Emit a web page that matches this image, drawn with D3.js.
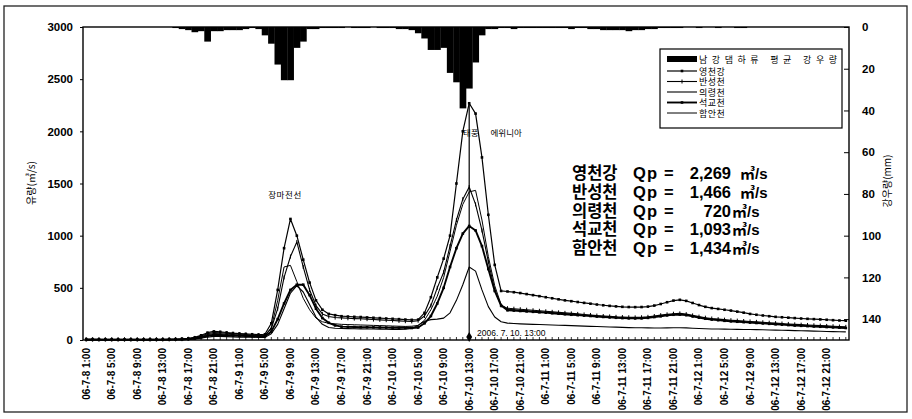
<!DOCTYPE html>
<html>
<head>
<meta charset="utf-8">
<script src="https://cdn.jsdelivr.net/npm/d3@7"></script>
<style>
  body { margin: 0; background: #fff; }
  text { font-family: "Liberation Sans", Arial, sans-serif; fill: #000; }
  .kr { font-family: "Noto Sans CJK KR", sans-serif; }
  .lg { font-family: "Liberation Sans", "Noto Sans CJK KR", sans-serif; }
</style>
</head>
<body>
<div id="chart"></div>
<script>
// hourly categories, 06-7-8 1:00 .. 06-7-13 0:00
const fmtHour = d3.timeFormat('%y-%-m-%-d %-H:%M');
const categories = d3.timeHour.range(new Date(2006, 6, 8, 1), new Date(2006, 6, 13, 1)).map(fmtHour);

// labelled categories on the x axis (every 4 hours)
const tickLabels = [
  '06-7-8 1:00', '06-7-8 5:00', '06-7-8 9:00', '06-7-8 13:00', '06-7-8 17:00', '06-7-8 21:00',
  '06-7-9 1:00', '06-7-9 5:00', '06-7-9 9:00', '06-7-9 13:00', '06-7-9 17:00', '06-7-9 21:00',
  '06-7-10 1:00', '06-7-10 5:00', '06-7-10 9:00', '06-7-10 13:00', '06-7-10 17:00', '06-7-10 21:00',
  '06-7-11 1:00', '06-7-11 5:00', '06-7-11 9:00', '06-7-11 13:00', '06-7-11 17:00', '06-7-11 21:00',
  '06-7-12 1:00', '06-7-12 5:00', '06-7-12 9:00', '06-7-12 13:00', '06-7-12 17:00', '06-7-12 21:00'
];
const flowTicks = [0, 500, 1000, 1500, 2000, 2500, 3000];
const rainTicks = [0, 20, 40, 60, 80, 100, 120, 140];

// 남강댐하류 평균 강우량 (mm)
const rain = [
  0, 0, 0, 0, 0, 0, 0, 0, 0, 0, 0, 0,
  0, 0, 0.5, 1, 1.5, 2.5, 2, 7, 2, 2, 1.5, 1.5,
  1.5, 1, 0.5, 1, 4, 8, 18, 25.5, 25.5, 10, 7, 1,
  1, 0.5, 0.5, 0.5, 0.5, 0, 0.5, 0.5, 0.5, 0, 0.5, 0.5,
  0.5, 1, 1, 1.5, 3, 5.5, 11, 11, 10, 22, 26.5, 39,
  29.5, 17, 4, 1, 1, 0.5, 0.5, 1, 0.5, 0.5, 0.5, 0.5,
  0.5, 0.5, 0.5, 0.5, 1, 0.5, 0.5, 1, 1, 1.5, 1.5, 1.5,
  1.5, 2, 1.5, 1.5, 1, 1, 0.5, 0.5, 0.5, 0.5, 0, 0,
  0.5, 0, 0, 0.5, 0, 0, 0.5, 0.5, 0, 0, 0, 0,
  0, 0, 0, 0, 0, 0, 0, 0, 0, 0, 0, 0
];

// discharge (m3/s)
const yeongcheon = [
  8, 8, 7, 7, 7, 6, 6, 6, 6, 6, 6, 7,
  7, 8, 9, 12, 16, 25, 45, 70, 82, 78, 72, 66,
  62, 58, 55, 52, 55, 160, 480, 880, 1160, 1000, 770, 550,
  380, 290, 250, 238, 228, 225, 222, 220, 216, 213, 210, 206,
  203, 200, 196, 193, 195, 260, 410, 600, 780, 1000, 1500, 2000,
  2269, 2170, 1750, 1200, 720, 470, 465, 458, 450, 440, 430, 420,
  410, 400, 390, 380, 372, 364, 356, 348, 340, 333, 327, 322,
  318, 316, 315, 316, 320, 330, 345, 362, 378, 385, 375, 355,
  335, 318, 306, 298, 290, 282, 272, 262, 250, 242, 235, 228,
  222, 218, 214, 210, 206, 203, 200, 197, 194, 190, 187, 185
];
const bansung = [
  3, 3, 3, 3, 3, 3, 3, 3, 3, 3, 4, 4,
  4, 5, 6, 8, 12, 20, 38, 60, 72, 70, 65, 60,
  55, 52, 48, 45, 45, 110, 300, 600, 800, 940, 700, 480,
  330, 250, 225, 215, 212, 208, 205, 203, 200, 196, 193, 190,
  187, 183, 180, 178, 185, 230, 330, 500, 650, 900, 1150, 1350,
  1466, 1300, 1050, 750, 480, 330, 305, 300, 295, 290, 285, 280,
  275, 270, 265, 260, 255, 250, 245, 240, 234, 230, 226, 222,
  220, 218, 217, 218, 222, 230, 238, 246, 252, 255, 248, 236,
  224, 214, 206, 200, 195, 190, 186, 182, 178, 174, 170, 166,
  162, 158, 154, 150, 147, 144, 141, 138, 135, 132, 129, 126
];
const uiryeong = [
  1, 1, 1, 1, 1, 1, 1, 1, 1, 1, 1, 1,
  2, 2, 3, 4, 6, 10, 18, 28, 35, 34, 32, 30,
  28, 27, 26, 25, 25, 60, 150, 300, 450, 520, 460, 340,
  220, 150, 120, 112, 110, 109, 108, 107, 106, 105, 104, 103,
  102, 102, 104, 110, 140, 180, 195, 200, 210, 260, 380, 530,
  700, 660, 480, 320, 220, 175, 162, 158, 155, 152, 150, 148,
  146, 144, 142, 140, 138, 135, 133, 131, 129, 127, 125, 123,
  121, 119, 118, 117, 116, 115, 115, 116, 117, 118, 116, 113,
  110, 108, 106, 105, 104, 103, 102, 101, 100, 99, 98, 96,
  95, 93, 92, 90, 89, 87, 85, 84, 82, 80, 79, 78
];
const seokgyo = [
  2, 2, 2, 2, 2, 2, 2, 2, 2, 2, 2, 2,
  3, 3, 4, 5, 8, 14, 25, 40, 50, 48, 45, 42,
  40, 38, 36, 35, 35, 80, 200, 350, 480, 530, 530, 430,
  300, 210, 165, 140, 128, 126, 124, 123, 122, 121, 120, 119,
  118, 117, 116, 115, 120, 160, 230, 350, 500, 700, 880, 1020,
  1093, 1050, 900, 680, 470, 330, 285, 282, 278, 274, 270, 266,
  262, 257, 252, 247, 242, 238, 234, 230, 225, 221, 217, 213,
  210, 208, 207, 208, 212, 220, 228, 236, 242, 244, 238, 226,
  214, 204, 196, 190, 184, 179, 175, 171, 167, 163, 159, 155,
  151, 147, 143, 139, 136, 133, 130, 127, 124, 121, 118, 115
];
const haman = [
  2, 2, 2, 2, 2, 2, 2, 2, 2, 2, 3, 3,
  3, 4, 5, 7, 10, 18, 32, 50, 62, 60, 56, 52,
  48, 45, 42, 40, 40, 120, 380, 700, 715, 560, 400, 290,
  210, 175, 160, 155, 150, 148, 146, 144, 142, 140, 138, 136,
  134, 132, 130, 132, 140, 190, 290, 420, 600, 850, 1100, 1300,
  1420, 1434, 1150, 800, 520, 340, 295, 290, 285, 280, 275, 270,
  265, 260, 255, 250, 246, 242, 238, 234, 228, 224, 220, 216,
  213, 211, 210, 211, 215, 222, 230, 238, 244, 246, 240, 228,
  216, 206, 198, 192, 187, 182, 178, 174, 170, 166, 162, 158,
  154, 150, 146, 142, 139, 136, 133, 130, 127, 124, 121, 118
];

const seriesNames = ['영천강', '반성천', '의령천', '석교천', '함안천'];
const peakValues = ['2,269', '1,466', '720', '1,093', '1,434'];
const rainName = '남강댐하류 평균 강우량';

const series = [
  { name: seriesNames[0], values: yeongcheon, width: 1.2, marker: 'square' },
  { name: seriesNames[1], values: bansung, width: 1.1, marker: 'tick' },
  { name: seriesNames[2], values: uiryeong, width: 1.1, marker: null },
  { name: seriesNames[3], values: seokgyo, width: 1.9, marker: 'square' },
  { name: seriesNames[4], values: haman, width: 1, marker: null }
];

drawChart();

function drawChart() {
  const W = 912, H = 419;
  const plot = { left: 83, right: 849, top: 27, bottom: 340 };

  const svg = d3.select('#chart').append('svg').attr('width', W).attr('height', H);

  // scanned-page style outer frame
  svg.append('rect')
    .attr('x', 4).attr('y', 6).attr('width', 903).attr('height', 406)
    .attr('fill', 'none').attr('stroke', '#222').attr('stroke-width', 1.3);

  // scales
  const x = d3.scaleBand().domain(categories).range([plot.left, plot.right]).padding(0);
  const cx = (c) => x(c) + x.bandwidth() / 2;
  const y = d3.scaleLinear().domain([0, 3000]).range([plot.bottom, plot.top]);
  const yRain = d3.scaleLinear().domain([0, 150]).range([plot.top, plot.bottom]);

  // rainfall bars hanging from the top
  svg.append('g').selectAll('rect')
    .data(rain.map((r, i) => ({ c: categories[i], r })))
    .join('rect')
    .attr('x', (d) => x(d.c))
    .attr('width', x.bandwidth() + 0.3)
    .attr('y', yRain(0))
    .attr('height', (d) => yRain(d.r) - yRain(0))
    .attr('fill', '#000');

  // discharge lines
  series.forEach((s) => {
    const pts = s.values.map((v, i) => ({ c: categories[i], v }));
    const line = d3.line().x((d) => cx(d.c)).y((d) => y(d.v));
    svg.append('path').datum(pts)
      .attr('fill', 'none').attr('stroke', '#000')
      .attr('stroke-width', s.width).attr('stroke-linejoin', 'round')
      .attr('d', line);
    if (s.marker === 'square') {
      svg.append('g').selectAll('rect').data(pts).join('rect')
        .attr('x', (d) => cx(d.c) - 1.3).attr('y', (d) => y(d.v) - 1.3)
        .attr('width', 2.6).attr('height', 2.6).attr('fill', '#000');
    } else if (s.marker === 'tick') {
      svg.append('g').selectAll('line').data(pts).join('line')
        .attr('x1', (d) => cx(d.c)).attr('x2', (d) => cx(d.c))
        .attr('y1', (d) => y(d.v) - 2).attr('y2', (d) => y(d.v) + 2)
        .attr('stroke', '#000').attr('stroke-width', 1);
    }
  });

  // peak time marker (2006. 7. 10. 13:00)
  const peakCat = categories[yeongcheon.indexOf(d3.max(yeongcheon))];
  svg.append('line')
    .attr('x1', cx(peakCat)).attr('x2', cx(peakCat))
    .attr('y1', y(d3.max(yeongcheon))).attr('y2', y(0))
    .attr('stroke', '#000').attr('stroke-width', 1.2);
  svg.append('path')
    .attr('d', d3.symbol(d3.symbolDiamond, 30)())
    .attr('transform', `translate(${cx(peakCat)},${y(0) - 3})`)
    .attr('fill', '#000');

  // plot frame
  svg.append('rect')
    .attr('x', plot.left).attr('y', plot.top)
    .attr('width', plot.right - plot.left).attr('height', plot.bottom - plot.top)
    .attr('fill', 'none').attr('stroke', '#000').attr('stroke-width', 1.4);

  // left axis
  const gLeft = svg.append('g').attr('transform', `translate(${plot.left},0)`)
    .call(d3.axisLeft(y).tickValues(flowTicks).tickFormat(d3.format('d')).tickSize(3).tickPadding(7));
  gLeft.select('.domain').remove();
  gLeft.selectAll('text').style('font-size', '11.5px').style('font-weight', 'bold');

  // right axis (rainfall, reversed)
  const gRight = svg.append('g').attr('transform', `translate(${plot.right},0)`)
    .call(d3.axisRight(yRain).tickValues(rainTicks).tickSize(-5).tickPadding(13));
  gRight.select('.domain').remove();
  gRight.selectAll('text').style('font-size', '11.5px').style('font-weight', 'bold');

  // x axis: small inner ticks at every hour, then rotated labels
  const gTicks = svg.append('g').attr('transform', `translate(0,${plot.bottom})`)
    .call(d3.axisBottom(x).tickSize(-3).tickFormat(''));
  gTicks.select('.domain').remove();
  gTicks.selectAll('line').attr('stroke-width', 0.8);

  const gBottom = svg.append('g').attr('transform', `translate(0,${plot.bottom})`)
    .call(d3.axisBottom(x).tickValues(tickLabels).tickSize(0));
  gBottom.select('.domain').remove();
  gBottom.selectAll('text')
    .attr('transform', 'rotate(-90)')
    .attr('x', -8).attr('y', 0).attr('dy', '0.35em')
    .style('text-anchor', 'end')
    .style('font-size', '10px').style('font-weight', 'bold');

  // axis titles
  svg.append('text').attr('class', 'kr')
    .attr('transform', 'translate(35,183) rotate(-90)')
    .attr('text-anchor', 'middle').style('font-size', '10px')
    .text('유량(㎥/s)');
  svg.append('text').attr('class', 'kr')
    .attr('transform', 'translate(891,181) rotate(-90)')
    .attr('text-anchor', 'middle').style('font-size', '10px')
    .text('강우량(mm)');

  // event annotations
  svg.append('text').attr('class', 'kr').attr('x', 285).attr('y', 198)
    .attr('text-anchor', 'middle').style('font-size', '8.5px').style('letter-spacing', '0.6px')
    .text('장마전선');
  svg.append('text').attr('class', 'kr').attr('x', 463).attr('y', 136)
    .style('font-size', '8.5px').style('word-spacing', '10px')
    .text('태풍 에위니아');
  svg.append('text').attr('x', 477).attr('y', 336)
    .style('font-size', '8.5px').text('2006. 7. 10. 13:00');

  // peak discharge summary
  const qp = svg.append('g');
  seriesNames.forEach((n, i) => {
    const by = 179 + i * 18.8;
    qp.append('text').attr('class', 'lg').attr('x', 572).attr('y', by)
      .style('font-size', '16.5px').style('font-weight', 'bold').text(n);
    qp.append('text').attr('x', 633).attr('y', by)
      .style('font-size', '16.5px').style('font-weight', 'bold').style('letter-spacing', '1.2px')
      .text('Qp =');
    qp.append('text').attr('x', 731).attr('y', by).attr('text-anchor', 'end')
      .style('font-size', '16.5px').style('font-weight', 'bold').text(peakValues[i]);
    qp.append('text').attr('class', 'lg').attr('x', i < 2 ? 740 : 732).attr('y', by)
      .style('font-size', '15px').style('font-weight', 'bold').text('㎥/s');
  });

  // legend
  const lg = svg.append('g');
  lg.append('rect').attr('x', 660).attr('y', 49).attr('width', 182).attr('height', 79)
    .attr('fill', '#fff').attr('stroke', '#000').attr('stroke-width', 1.2);
  lg.append('rect').attr('x', 667).attr('y', 56).attr('width', 30).attr('height', 6).attr('fill', '#000');
  lg.append('text').attr('class', 'lg').attr('x', 699).attr('y', 62.5)
    .attr('textLength', 138).attr('lengthAdjust', 'spacing')
    .style('font-size', '9px').text(rainName);
  series.forEach((s, i) => {
    const ly = 71 + i * 10.5;
    lg.append('line').attr('x1', 667).attr('x2', 697).attr('y1', ly).attr('y2', ly)
      .attr('stroke', '#000').attr('stroke-width', s.width);
    if (s.marker === 'square') {
      lg.append('rect').attr('x', 680.7).attr('y', ly - 1.3).attr('width', 2.6).attr('height', 2.6).attr('fill', '#000');
    } else if (s.marker === 'tick') {
      lg.append('line').attr('x1', 682).attr('x2', 682).attr('y1', ly - 2).attr('y2', ly + 2)
        .attr('stroke', '#000');
    }
    lg.append('text').attr('class', 'lg').attr('x', 699).attr('y', ly + 3.5)
      .style('font-size', '9px').style('letter-spacing', '0.5px').text(s.name);
  });
}
</script>
</body>
</html>
